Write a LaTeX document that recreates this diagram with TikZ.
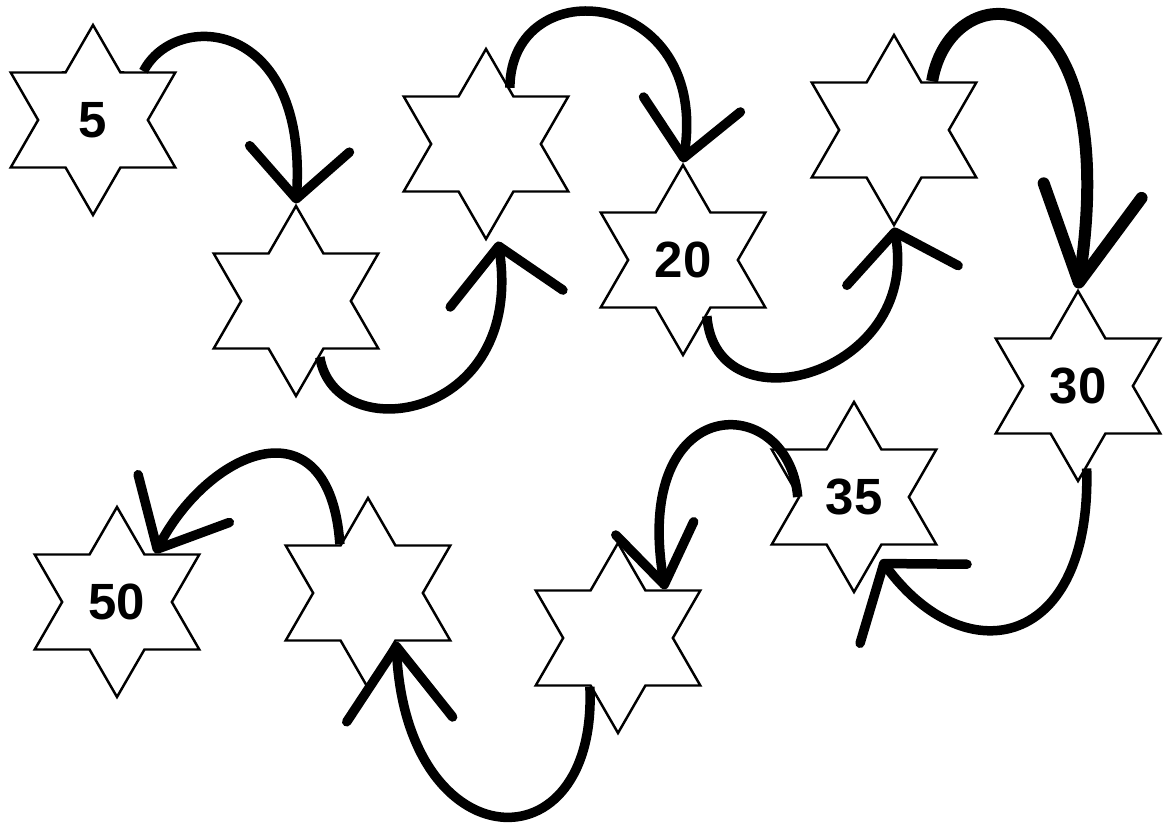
\documentclass[tikz,border=0pt]{standalone}
\usepackage{fontspec}
\setsansfont{Liberation Sans}
\usepackage{tikz}
\usetikzlibrary{arrows.meta, shapes.geometric}
\tikzset{
  hexstar/.style={star, star points=6, star point ratio=1.732,
                  minimum size=1.9cm, inner sep=0pt, draw=black,
                  line width=0.7pt, fill=white,
                  font=\sffamily\bfseries\fontsize{14.5}{16}\selectfont},
  hop/.style 2 args={line width=0.95mm, line cap=butt,
                     -{Straight Barb[round, length=#1, width=#2]}},
}

\begin{document}
\begin{tikzpicture}
  % canvas
  \fill[white] (0,0) rectangle (11.7,8.23);
  \useasboundingbox (0,0) rectangle (11.7,8.23);

  % ---- stars ----
  \foreach \n/\x/\y/\v in {st1/0.93/7.03/5, st2/2.96/5.22/{},
                           st3/4.86/6.79/{}, st4/6.83/5.63/20,
                           st5/8.94/6.93/{}, st6/10.78/4.37/30,
                           st7/8.54/3.26/35, st8/6.18/1.85/{},
                           st9/3.68/2.30/{}, st10/1.17/2.21/50}
    \node[hexstar] (\n) at (\x,\y) {\v};

  % ---- hops, top row ----
  \draw[hop={5mm}{10mm}] (st1.44)
    .. controls +(0.32,0.62) and +(0.12,1.85) .. (st2.north);
  \draw[hop={5.3mm}{11.4mm}] (st2.-67)
    .. controls +(0.15,-0.92) and +(0.27,-1.80) .. ([xshift=1.2mm]st3.south);
  \draw[hop={5.4mm}{9.8mm}] (st3.67)
    .. controls +(0.01,1.20) and +(0.27,1.75) .. (st4.north);
  \draw[hop={4.4mm}{11.3mm}] (st4.-67)
    .. controls +(0.09,-1.15) and +(0.26,-1.47) .. (st5.south);
  \draw[hop={9.3mm}{9.9mm}, line width=1.2mm] (st5.52)
    .. controls +(0.19,1.12) and +(0.47,3.15) .. (st6.north);

  % ---- hops, back along the bottom ----
  \draw[hop={5mm}{13.3mm}] (st6.-84)
    .. controls +(0.05,-1.80) and +(0.85,-1.15) .. ([yshift=-1.2mm]st7.-62);
  \draw[hop={5.7mm}{7.9mm}] (st7.180)
    .. controls +(-0.09,1.07) and +(-0.34,2.00) .. (st8.46);
  \draw[hop={7.3mm}{10.6mm}] (st8.-120)
    .. controls +(0.08,-1.84) and +(0.10,-2.20) .. (st9.-60);
  \draw[hop={5.7mm}{10.3mm}] (st9.120)
    .. controls +(-0.10,1.45) and +(0.55,1.05) .. (st10.52);
\end{tikzpicture}
\end{document}
